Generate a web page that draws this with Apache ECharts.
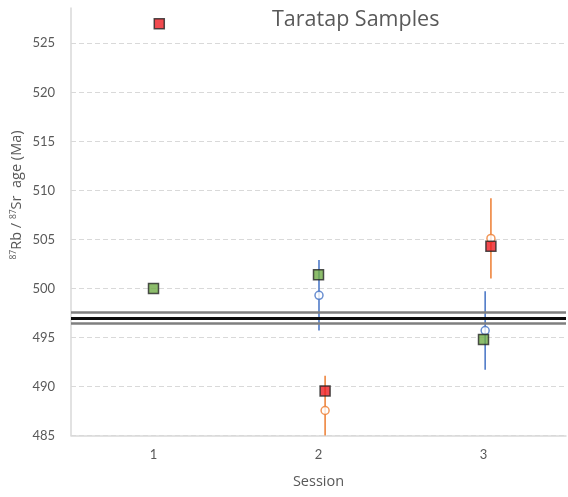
<!DOCTYPE html>
<html>
<head>
<meta charset="utf-8">
<script src="https://cdn.jsdelivr.net/npm/echarts@6/dist/echarts.min.js"></script>
<style>
  html, body { margin: 0; padding: 0; background: #fff; }
  #chart { width: 568px; height: 497px; }
</style>
</head>
<body>
<div id="chart"></div>
<script>
// ---- data ----
const sessions = ['1', '2', '3'];
const yTicks = [485, 490, 495, 500, 505, 510, 515, 520, 525];

const blueX = [2.003, 3.01];
const blueY = [499.3, 495.7];
const blueErr = [3.6, 4.0];

const orangeX = [2.04, 3.045];
const orangeY = [487.55, 505.1];
const orangeErr = [3.55, 4.1];

const greenX = [1.0, 2.0, 3.0];
const greenY = [500.0, 501.4, 494.8];

const redX = [1.035, 2.04, 3.045];
const redY = [527.0, 489.55, 504.3];

const meanAge = 497.0;
const meanErr = 0.6;

// ---- chart ----
const chart = echarts.init(document.getElementById('chart'), null, { renderer: 'canvas' });
const font = 'Lato, "Open Sans", sans-serif';
const font2 = '"Open Sans", Lato, sans-serif';
const textColor = '#595959';

function pairs(xs, ys) { return xs.map((x, i) => [x, ys[i]]); }
function errData(xs, ys, es) { return xs.map((x, i) => [x, ys[i] - es[i], ys[i] + es[i]]); }

function errorBarSeries(xs, ys, es, color) {
  return {
    type: 'custom',
    xAxisIndex: 1,
    yAxisIndex: 0,
    clip: true,
    silent: true,
    z: 2,
    data: errData(xs, ys, es),
    renderItem: function (params, api) {
      const lo = api.coord([api.value(0), api.value(1)]);
      const hi = api.coord([api.value(0), api.value(2)]);
      return {
        type: 'line',
        shape: { x1: lo[0], y1: lo[1], x2: hi[0], y2: hi[1] },
        style: { stroke: color, lineWidth: 1.5 }
      };
    }
  };
}

const option = {
  backgroundColor: '#ffffff',
  animation: false,
  title: {
    text: 'Taratap Samples',
    left: 267,
    top: 4,
    textStyle: { fontFamily: font2, fontSize: 21.5, fontWeight: 'normal', color: textColor }
  },
  graphic: [
    {
      type: 'text',
      x: 17,
      y: 195,
      rotation: Math.PI / 2,
      silent: true,
      style: {
        text: '{sup|87}{n|Rb / }{sup|87}{n|Sr  age (Ma)}',
        align: 'center',
        verticalAlign: 'middle',
        rich: {
          n: { fontFamily: font2, fontSize: 14.5, fill: textColor, lineHeight: 16 },
          sup: { fontFamily: font2, fontSize: 8.5, fill: textColor, lineHeight: 8, verticalAlign: 'top' }
        }
      }
    }
  ],
  grid: { left: 71, right: 2, top: 8, bottom: 61.5, containLabel: false },
  xAxis: [
    {
      type: 'category',
      data: sessions,
      boundaryGap: true,
      name: 'Session',
      nameLocation: 'middle',
      nameGap: 39,
      nameTextStyle: { fontFamily: font2, fontSize: 14.5, color: textColor },
      axisLine: { show: true, lineStyle: { color: '#d9d9d9', width: 1.5 } },
      axisTick: { show: false },
      axisLabel: { margin: 13, fontFamily: font, fontSize: 13, color: textColor },
      splitLine: { show: false }
    },
    {
      type: 'value',
      min: 0.5,
      max: 3.5,
      show: false,
      splitLine: { show: false }
    }
  ],
  yAxis: {
    type: 'value',
    min: yTicks[0],
    max: 528.6,
    interval: 5,
    axisLine: { show: true, lineStyle: { color: '#d9d9d9', width: 1.5 } },
    axisTick: { show: false },
    axisLabel: {
      margin: 16,
      fontFamily: font,
      fontSize: 13,
      color: textColor,
      showMaxLabel: false,
      formatter: function (v) { return yTicks.indexOf(v) >= 0 ? String(v) : ''; }
    },
    splitLine: {
      show: true,
      showMaxLine: false,
      lineStyle: { color: '#d9d9d9', type: [5, 3], width: 1 }
    }
  },
  series: [
    {
      type: 'scatter',
      xAxisIndex: 1,
      data: [],
      z: 1,
      silent: true,
      markLine: {
        silent: true,
        symbol: 'none',
        label: { show: false },
        animation: false,
        data: [
          { yAxis: meanAge + meanErr, lineStyle: { color: '#7f7f7f', width: 2.5, type: 'solid' } },
          { yAxis: meanAge - meanErr, lineStyle: { color: '#7f7f7f', width: 2.5, type: 'solid' } },
          { yAxis: meanAge, lineStyle: { color: '#0d0d0d', width: 3, type: 'solid' } }
        ]
      }
    },
    errorBarSeries(blueX, blueY, blueErr, '#4472C4'),
    errorBarSeries(orangeX, orangeY, orangeErr, '#ED7D31'),
    {
      type: 'scatter',
      xAxisIndex: 1,
      z: 3,
      symbol: 'circle',
      symbolSize: 8,
      itemStyle: { color: '#ffffff', borderColor: '#4472C4', borderWidth: 1.5 },
      data: pairs(blueX, blueY)
    },
    {
      type: 'scatter',
      xAxisIndex: 1,
      z: 3,
      symbol: 'circle',
      symbolSize: 8,
      itemStyle: { color: '#ffffff', borderColor: '#ED7D31', borderWidth: 1.5 },
      data: pairs(orangeX, orangeY)
    },
    {
      type: 'scatter',
      xAxisIndex: 1,
      z: 4,
      symbol: 'rect',
      symbolSize: 10,
      itemStyle: { color: '#70AD47', borderColor: '#262626', borderWidth: 1.5 },
      data: pairs(greenX, greenY)
    },
    {
      type: 'scatter',
      xAxisIndex: 1,
      z: 4,
      symbol: 'rect',
      symbolSize: 10,
      itemStyle: { color: '#EE1D23', borderColor: '#262626', borderWidth: 1.5 },
      data: pairs(redX, redY)
    }
  ]
};

chart.setOption(option);
</script>
</body>
</html>
